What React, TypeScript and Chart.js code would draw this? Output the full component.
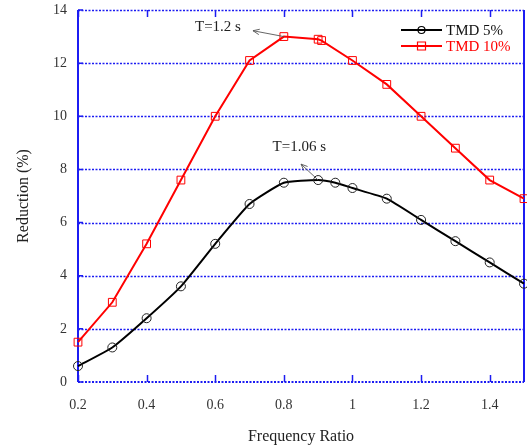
import React, { useEffect, useRef } from "react";
import { Chart, registerables } from "chart.js";

Chart.register(...registerables);

const ratio5 = [0.2, 0.3, 0.4, 0.5, 0.6, 0.7, 0.8, 0.9, 0.95, 1.0, 1.1, 1.2, 1.3, 1.4, 1.5];
const tmd5 = [0.6, 1.3, 2.4, 3.6, 5.2, 6.7, 7.5, 7.6, 7.5, 7.3, 6.9, 6.1, 5.3, 4.5, 3.7];
const ratio10 = [0.2, 0.3, 0.4, 0.5, 0.6, 0.7, 0.8, 0.9, 0.91, 1.0, 1.1, 1.2, 1.3, 1.4, 1.5];
const tmd10 = [1.5, 3.0, 5.2, 7.6, 10.0, 12.1, 13.0, 12.9, 12.85, 12.1, 11.2, 10.0, 8.8, 7.6, 6.9];
const xTicks = [0.2, 0.4, 0.6, 0.8, 1, 1.2, 1.4];
const yTicks = [0, 2, 4, 6, 8, 10, 12, 14];
const seriesNames = ["TMD 5%", "TMD 10%"];
// annotations: label, text position (x,y), arrow tail (x,y), arrow head (x,y)
const annoLabels = ["T=1.2 s", "T=1.06 s"];
const annoText = [[0.608, 13.35], [0.845, 8.85]];
const annoTail = [[0.8, 13.0], [0.9, 7.6]];
const annoHead = [[0.71, 13.22], [0.85, 8.2]];

const BLUE = "#1c1cf2";
const FONT = "'Liberation Serif', 'DejaVu Serif', serif";

const framePlugin = {
  id: "frame",
  beforeDatasetsDraw(chart: any) {
    const { ctx, chartArea: a, scales } = chart;
    const xs = scales.x, ys = scales.y;
    ctx.save();
    ctx.strokeStyle = BLUE;
    ctx.setLineDash([2, 1.5]);
    ctx.lineWidth = 1.6;
    for (const v of yTicks) {
      if (v === 0) continue;
      const y = Math.round(ys.getPixelForValue(v)) + 0.5;
      ctx.beginPath();
      ctx.moveTo(a.left, y);
      ctx.lineTo(a.right, y);
      ctx.stroke();
    }
    ctx.lineWidth = 2.2;
    const yb = ys.getPixelForValue(0);
    ctx.beginPath();
    ctx.moveTo(a.left, yb);
    ctx.lineTo(a.right, yb);
    ctx.stroke();
    ctx.setLineDash([]);
    ctx.lineWidth = 2;
    ctx.beginPath();
    ctx.moveTo(a.left, a.top);
    ctx.lineTo(a.left, yb);
    ctx.moveTo(a.right, a.top);
    ctx.lineTo(a.right, yb);
    ctx.stroke();
    ctx.lineWidth = 1.5;
    ctx.beginPath();
    for (const v of yTicks) {
      const y = ys.getPixelForValue(v);
      ctx.moveTo(a.left, y);
      ctx.lineTo(a.left + 5, y);
    }
    for (const v of xTicks) {
      const x = Math.round(xs.getPixelForValue(v)) + 0.5;
      ctx.moveTo(x, yb);
      ctx.lineTo(x, yb - 7);
      ctx.moveTo(x, a.top);
      ctx.lineTo(x, a.top + 7);
    }
    ctx.stroke();
    ctx.restore();
  },
  afterDraw(chart: any) {
    const { ctx, scales } = chart;
    const xs = scales.x, ys = scales.y;
    ctx.save();
    ctx.font = `15px ${FONT}`;
    ctx.fillStyle = "#222";
    ctx.textAlign = "center";
    ctx.textBaseline = "middle";
    annoLabels.forEach((t, i) => {
      ctx.fillText(t, xs.getPixelForValue(annoText[i][0]), ys.getPixelForValue(annoText[i][1]));
      const x1 = xs.getPixelForValue(annoTail[i][0]);
      const y1 = ys.getPixelForValue(annoTail[i][1]);
      const x2 = xs.getPixelForValue(annoHead[i][0]);
      const y2 = ys.getPixelForValue(annoHead[i][1]);
      const ang = Math.atan2(y2 - y1, x2 - x1);
      ctx.strokeStyle = "#555";
      ctx.lineWidth = 0.9;
      ctx.beginPath();
      ctx.moveTo(x1, y1);
      ctx.lineTo(x2, y2);
      ctx.moveTo(x2 - 7 * Math.cos(ang - 0.4), y2 - 7 * Math.sin(ang - 0.4));
      ctx.lineTo(x2, y2);
      ctx.lineTo(x2 - 7 * Math.cos(ang + 0.4), y2 - 7 * Math.sin(ang + 0.4));
      ctx.stroke();
    });
    const lx = 401, ly = [30, 46];
    const cols = ["#000000", "#ff0000"];
    ctx.textAlign = "left";
    ctx.font = `15px ${FONT}`;
    seriesNames.forEach((n, i) => {
      ctx.strokeStyle = cols[i];
      ctx.lineWidth = 2;
      ctx.beginPath();
      ctx.moveTo(lx, ly[i]);
      ctx.lineTo(lx + 41, ly[i]);
      ctx.stroke();
      ctx.lineWidth = 1.2;
      ctx.beginPath();
      if (i === 0) ctx.arc(lx + 20.5, ly[i], 3.5, 0, Math.PI * 2);
      else ctx.rect(lx + 16.5, ly[i] - 4, 8, 8);
      ctx.stroke();
      ctx.fillStyle = i === 0 ? "#111" : "#ff0000";
      ctx.fillText(n, lx + 45, ly[i] + 1);
    });
    ctx.restore();
  },
};

export default function App() {
  const ref = useRef<HTMLCanvasElement>(null);
  useEffect(() => {
    document.body.style.margin = "0";
    const chart = new Chart(ref.current!, {
      type: "line",
      data: {
        datasets: [
          {
            label: seriesNames[0],
            data: ratio5.map((x, i) => ({ x, y: tmd5[i] })),
            borderColor: "#000",
            borderWidth: 2,
            pointStyle: "circle",
            pointRadius: 4.5,
            pointBorderWidth: 1,
            pointBorderColor: "#222",
            pointBackgroundColor: "rgba(0,0,0,0)",
            tension: 0.15,
            clip: 8,
          },
          {
            label: seriesNames[1],
            data: ratio10.map((x, i) => ({ x, y: tmd10[i] })),
            borderColor: "#ff0000",
            borderWidth: 2,
            pointStyle: "rect",
            pointRadius: 5.5,
            pointBorderWidth: 1,
            pointBorderColor: "#ff0000",
            pointBackgroundColor: "rgba(0,0,0,0)",
            tension: 0,
            clip: 8,
          },
        ],
      },
      options: {
        animation: false,
        responsive: false,
        layout: { autoPadding: false, padding: { top: 10, right: 3, left: 0, bottom: 0 } },
        plugins: { legend: { display: false }, tooltip: { enabled: false } },
        scales: {
          x: {
            type: "linear",
            min: 0.2,
            max: 1.5,
            afterBuildTicks: (s: any) => {
              s.ticks = xTicks.map((v) => ({ value: v }));
            },
            afterFit: (s: any) => {
              s.height = 66;
              s.paddingLeft = 0;
              s.paddingRight = 0;
            },
            grid: { display: false, drawTicks: false },
            border: { display: false },
            ticks: {
              padding: 15,
              color: "#333",
              font: { family: FONT, size: 14 },
              callback: (v: any) => String(v),
            },
            title: {
              display: true,
              text: "Frequency Ratio",
              color: "#222",
              font: { family: FONT, size: 16 },
              padding: { top: 0, bottom: 2 },
            },
          },
          y: {
            min: 0,
            max: 14,
            afterBuildTicks: (s: any) => {
              s.ticks = yTicks.map((v) => ({ value: v }));
            },
            afterFit: (s: any) => {
              s.width = 78;
              s.paddingTop = 0;
              s.paddingBottom = 0;
            },
            grid: { display: false, drawTicks: false },
            border: { display: false },
            ticks: {
              padding: 11,
              color: "#333",
              font: { family: FONT, size: 14 },
            },
            title: {
              display: true,
              text: "Reduction (%)",
              color: "#222",
              font: { family: FONT, size: 16 },
              padding: { top: 14, bottom: 0 },
            },
          },
        },
      },
      plugins: [framePlugin],
    });
    return () => chart.destroy();
  }, []);
  return (
    <div style={{ width: 527, height: 448 }}>
      <canvas ref={ref} width={527} height={448} style={{ display: "block" }} />
    </div>
  );
}
